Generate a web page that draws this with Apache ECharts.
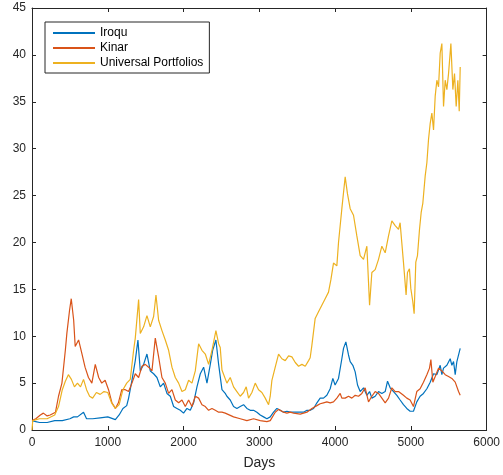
<!DOCTYPE html>
<html>
<head>
<meta charset="utf-8">
<script src="https://cdn.jsdelivr.net/npm/echarts@6/dist/echarts.min.js"></script>
<style>
html,body{margin:0;padding:0;background:#fff;}
#chart{width:503px;height:475px;}
</style>
</head>
<body>
<div id="chart"></div>
<script>
const seriesNames = ['Iroqu', 'Kinar', 'Universal Portfolios'];
const seriesColors = ['#0072BD', '#D95319', '#EDB120'];

const iroquDays = [0,50,100,200,300,400,500,550,600,680,720,800,900,1000,1100,1150,1200,1250,1275,1319,1363,1398,1429,1473,1517,1561,1605,1649,1693,1737,1781,1825,1869,1913,1957,2000,2045,2089,2133,2177,2221,2265,2309,2353,2384,2427,2463,2507,2550,2572,2616,2660,2704,2748,2792,2836,2880,2924,2968,3012,3056,3100,3144,3188,3232,3276,3320,3364,3408,3452,3496,3540,3584,3628,3672,3716,3760,3803,3847,3891,3935,3970,4000,4045,4089,4111,4142,4177,4199,4234,4265,4296,4331,4375,4419,4455,4485,4529,4573,4617,4661,4692,4727,4771,4815,4858,4902,4946,4990,5034,5078,5122,5166,5211,5255,5299,5343,5387,5409,5431,5475,5519,5541,5563,5585,5607,5629,5651];
const iroquValues = [1.0,0.9,0.8,0.8,1.0,1.0,1.2,1.4,1.4,1.9,1.2,1.2,1.3,1.4,1.1,1.6,2.3,2.6,3.4,5.3,7.4,9.6,6.3,7.0,8.1,6.3,6.0,5.6,4.6,5.0,3.9,3.6,2.5,2.3,2.1,1.8,2.3,2.1,2.9,4.6,6.0,6.7,5.0,7.0,8.5,9.6,7.0,4.3,3.9,3.6,3.2,2.5,2.3,2.5,2.7,2.3,2.1,2.1,1.9,1.6,1.4,1.2,1.4,1.9,2.3,2.1,1.9,2.0,1.9,1.9,1.9,1.9,1.9,2.1,2.1,2.3,2.9,3.4,3.4,3.7,4.4,5.5,4.8,5.5,7.6,8.7,9.4,8.0,7.3,6.9,6.2,4.8,4.1,4.5,3.7,4.1,3.4,3.6,4.1,3.9,4.1,5.2,4.5,4.1,3.7,3.2,2.7,2.3,2.0,2.0,3.0,3.6,3.9,4.4,5.1,6.0,5.9,6.9,5.9,6.6,6.9,7.6,6.9,7.3,5.9,7.3,7.3,8.7];

const kinarDays = [0,50,110,150,200,240,310,350,395,440,460,496,518,550,570,615,660,700,745,790,835,880,920,965,1010,1055,1100,1140,1185,1231,1275,1319,1363,1407,1451,1495,1539,1583,1627,1671,1715,1759,1803,1847,1891,1935,1979,2023,2067,2111,2155,2199,2243,2287,2331,2375,2419,2463,2507,2550,2572,2660,2748,2836,2924,3012,3100,3144,3210,3254,3320,3364,3408,3452,3540,3628,3694,3760,3803,3847,3891,3935,3979,4023,4067,4089,4133,4177,4221,4265,4309,4353,4397,4441,4485,4529,4573,4617,4661,4705,4749,4793,4837,4858,4902,4946,4990,5034,5078,5122,5166,5211,5246,5264,5290,5321,5365,5409,5453,5497,5541,5585,5629,5651];
const kinarValues = [1.0,1.2,1.6,1.8,1.5,1.6,1.9,3.6,5.0,8.5,10.3,12.8,14.0,11.7,8.9,9.6,8.1,6.7,5.6,5.0,7.0,5.6,5.0,5.3,4.3,2.9,2.3,2.9,4.3,4.3,4.1,5.0,6.0,5.6,6.8,7.0,6.7,6.3,9.8,7.8,5.6,5.0,3.9,4.3,3.2,2.9,3.2,2.5,3.2,2.5,3.6,3.4,2.7,2.5,2.1,2.3,2.1,1.9,1.9,1.8,1.6,1.4,1.2,1.0,1.2,1.0,0.9,1.0,1.9,2.2,1.9,1.8,1.9,1.8,1.7,1.9,2.3,2.6,2.8,2.9,3.0,2.9,3.0,3.4,3.9,3.4,3.4,3.6,3.4,3.7,3.6,3.9,4.5,3.0,3.6,4.1,3.9,3.4,2.9,3.4,4.5,4.1,4.1,3.9,3.7,3.4,3.2,2.5,4.1,4.4,5.1,5.9,6.6,7.5,5.1,5.7,6.6,6.3,5.9,5.7,5.5,5.1,4.1,3.7];

const upDays = [0,10,100,200,300,350,400,440,480,520,560,600,640,680,720,760,800,850,900,950,1000,1050,1100,1150,1200,1250,1297,1341,1363,1407,1429,1473,1517,1561,1605,1636,1671,1715,1759,1803,1847,1891,1935,1979,2023,2067,2111,2155,2199,2243,2287,2331,2375,2427,2463,2484,2507,2528,2572,2616,2660,2704,2748,2792,2827,2858,2902,2946,2990,3034,3078,3122,3144,3166,3210,3254,3298,3342,3386,3430,3474,3518,3562,3606,3650,3671,3693,3737,3781,3825,3869,3913,3944,3979,4023,4045,4089,4133,4163,4199,4243,4287,4331,4375,4419,4455,4485,4529,4573,4617,4661,4705,4749,4793,4837,4858,4880,4902,4937,4955,4981,4999,5025,5043,5065,5087,5114,5136,5158,5189,5211,5233,5255,5277,5299,5321,5343,5365,5387,5409,5431,5453,5475,5497,5528,5554,5576,5598,5620,5638,5651];
const upValues = [0.0,1.0,1.2,1.2,1.6,2.5,4.3,5.2,5.9,5.4,4.6,5.0,4.6,5.4,4.3,3.6,3.4,4.0,3.8,4.1,4.0,2.9,2.3,2.7,4.3,5.0,5.4,8.5,9.8,13.9,10.3,11.0,12.2,11.0,12.1,14.4,11.7,10.6,9.6,8.5,6.7,5.6,5.0,4.1,4.3,5.3,5.0,6.3,9.2,8.5,8.1,7.0,8.5,10.6,9.2,8.8,6.4,6.3,5.0,5.6,4.6,4.1,3.6,4.0,4.6,3.4,4.0,5.0,4.3,4.0,3.4,2.7,3.6,5.3,6.7,8.1,7.6,7.4,7.9,7.8,7.2,6.8,7.0,6.8,7.4,7.7,9.0,11.9,12.6,13.3,14.0,14.7,16.0,17.8,17.5,20.0,23.6,27.0,25.2,23.6,22.9,20.7,18.6,18.2,19.6,13.3,16.8,17.1,18.2,19.6,18.9,20.7,22.3,21.8,21.4,22.1,20.0,17.9,14.4,16.8,17.2,15.1,13.7,12.4,17.9,18.6,21.4,23.2,24.2,27.1,28.5,31.0,32.7,33.8,32.0,35.6,37.3,36.6,40.2,41.2,34.5,37.3,36.3,38.0,41.2,36.3,38.0,34.5,37.3,34.0,38.7];

const allDays = [iroquDays, kinarDays, upDays];
const allValues = [iroquValues, kinarValues, upValues];

const axisColor = '#262626';
const fontFam = '"Liberation Sans", Arial, Helvetica, sans-serif';

function pairs(d, v) { return d.map((x, i) => [x, v[i]]); }

const chart = echarts.init(document.getElementById('chart'), null, {renderer: 'canvas'});

const axisBase = {
  axisLine: {show: true, onZero: false, lineStyle: {color: axisColor, width: 1}},
  axisTick: {show: true, inside: true, length: 4, lineStyle: {color: axisColor}},
  splitLine: {show: false}
};

chart.setOption({
  animation: false,
  backgroundColor: '#ffffff',
  textStyle: {fontFamily: fontFam},
  grid: {left: 32, top: 8, right: 16, bottom: 43, containLabel: false},
  legend: {
    orient: 'vertical',
    left: 45, top: 22,
    padding: [4, 6, 3, 8],
    itemGap: 1,
    itemWidth: 42, itemHeight: 2,
    icon: 'rect',
    backgroundColor: '#ffffff',
    borderColor: axisColor, borderWidth: 1, borderRadius: 0,
    textStyle: {fontSize: 12, color: '#000', fontFamily: fontFam, lineHeight: 14, height: 14},
    data: seriesNames
  },
  xAxis: [
    Object.assign({
      type: 'value', position: 'bottom', min: 0, max: 6000, interval: 1000,
      axisLabel: {show: true, margin: 7, fontSize: 12, color: axisColor, fontFamily: fontFam,
        formatter: v => String(v)},
      name: 'Days', nameLocation: 'middle', nameGap: 26,
      nameTextStyle: {fontSize: 14, color: axisColor, fontFamily: fontFam}
    }, axisBase),
    Object.assign({
      type: 'value', position: 'top', min: 0, max: 6000, interval: 1000,
      axisLabel: {show: false}
    }, axisBase)
  ],
  yAxis: [
    Object.assign({
      type: 'value', position: 'left', min: 0, max: 45, interval: 5,
      axisLabel: {show: true, margin: 6, fontSize: 12, color: axisColor, fontFamily: fontFam,
        formatter: v => String(v)}
    }, axisBase),
    Object.assign({
      type: 'value', position: 'right', min: 0, max: 45, interval: 5,
      axisLabel: {show: false}
    }, axisBase)
  ],
  series: seriesNames.map((name, i) => ({
    name: name,
    type: 'line',
    xAxisIndex: 0, yAxisIndex: 0,
    symbol: 'none',
    showSymbol: false,
    smooth: false,
    lineStyle: {width: 1.2, color: seriesColors[i]},
    itemStyle: {color: seriesColors[i]},
    data: pairs(allDays[i], allValues[i])
  }))
});
</script>
</body>
</html>
